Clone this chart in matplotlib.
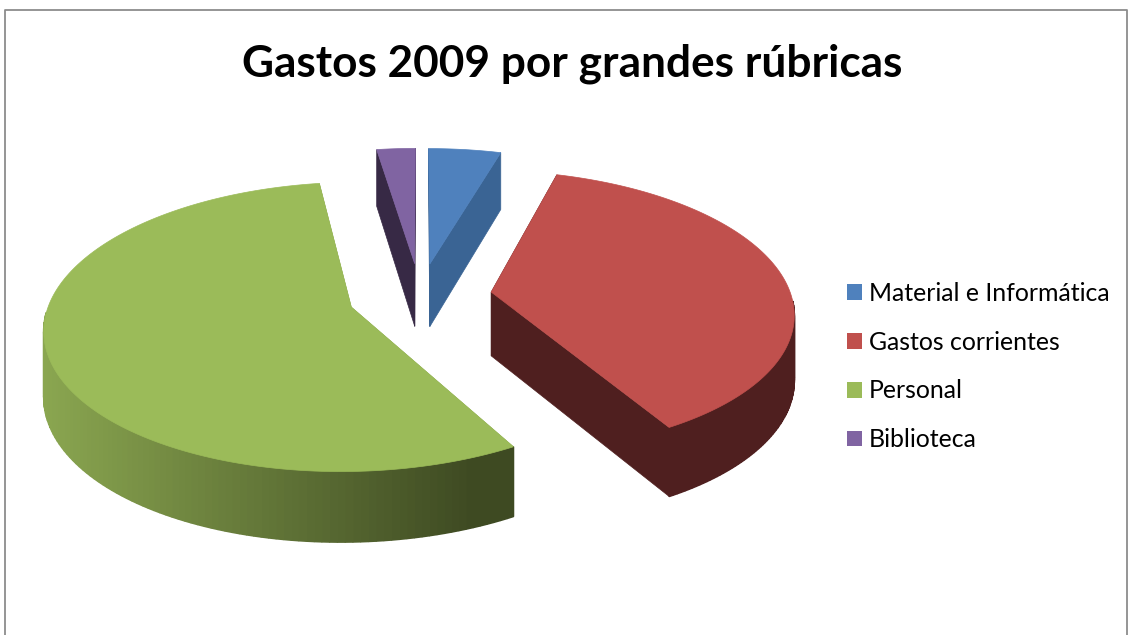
import numpy as np
import matplotlib.pyplot as plt
from matplotlib.colors import to_rgb
from matplotlib.patches import Patch, Polygon

plt.rcParams['font.family'] = ['Lato', 'DejaVu Sans']

title = "Gastos 2009 por grandes rúbricas"
labels = ["Material e Informática", "Gastos corrientes", "Personal", "Biblioteca"]
values = [4.5, 37.2, 55.9, 2.4]
top_colors = ["#4f81bd", "#c0504d", "#9bbb59", "#8064a2"]
side_colors = ["#3a6494", "#4f1f1f", "#8aa650", "#372945"]

cx, cy = 420, 296
rx, ry = 300, 139
k = 0.135
explode = 0.24


def project(X, Y):
    s = 1 / (1 + k * Y)
    return cx + rx * X * s, cy - ry * Y * s


def down(Y):
    return 64 - 6 * Y


def blend(a, b, t):
    a, b = np.array(to_rgb(a)), np.array(to_rgb(b))
    return tuple(a + (b - a) * t)


fig = plt.figure(figsize=(11.28, 6.35), dpi=100)
ax = fig.add_axes([0, 0, 1, 1])
ax.set_xlim(0, 1128)
ax.set_ylim(635, 0)
ax.axis("off")

# chart frame, no bottom edge in the crop
ax.plot([5, 5, 1127, 1127], [635, 9.5, 9.5, 635], color="#8c8c8c", lw=1.3)

angles = np.cumsum([0] + values) / sum(values) * 2 * np.pi

for i, value in enumerate(values):
    a0, a1 = angles[i], angles[i + 1]
    mid = (a0 + a1) / 2
    ex, ey = explode * np.sin(mid), explode * np.cos(mid)
    t = np.linspace(a0, a1, 160)
    X = np.r_[ex, ex + np.sin(t)]
    Y = np.r_[ey, ey + np.cos(t)]
    px, py = project(X, Y)
    d = down(Y)

    # the two cut faces
    for j in (1, len(px) - 1):
        quad = [(px[0], py[0]), (px[j], py[j]), (px[j], py[j] + d[j]), (px[0], py[0] + d[0])]
        ax.add_patch(Polygon(quad, fc=side_colors[i], ec=side_colors[i], lw=0.5))

    # outer wall, only the front part shows; the green one fades with x
    for j in range(1, len(px) - 1):
        if Y[j] - ey > -0.05:
            continue
        color = side_colors[i]
        if labels[i] == "Personal":
            color = blend("#8aa650", "#3e4a22", np.clip((px[j] - 45) / 430, 0, 1))
        quad = [(px[j], py[j]), (px[j + 1], py[j + 1]),
                (px[j + 1], py[j + 1] + d[j + 1]), (px[j], py[j] + d[j])]
        ax.add_patch(Polygon(quad, fc=color, ec=color, lw=1.2, joinstyle="bevel"))

    ax.add_patch(Polygon(np.c_[px, py], fc=top_colors[i], ec=top_colors[i], lw=0.5))

ax.text(572, 63.5, title, ha="center", va="center", fontsize=31.8, fontweight="bold", color="black")

handles = [Patch(fc=c, ec=c, lw=0) for c in top_colors]
ax.legend(handles, labels, loc="center left", bbox_to_anchor=(847 / 1128, 1 - 366.5 / 635),
          frameon=False, fontsize=17.9, labelspacing=1.04, handlelength=0.6,
          handleheight=0.6, handletextpad=0.28, borderpad=0, borderaxespad=0)

fig.savefig("out.png", dpi=100)
